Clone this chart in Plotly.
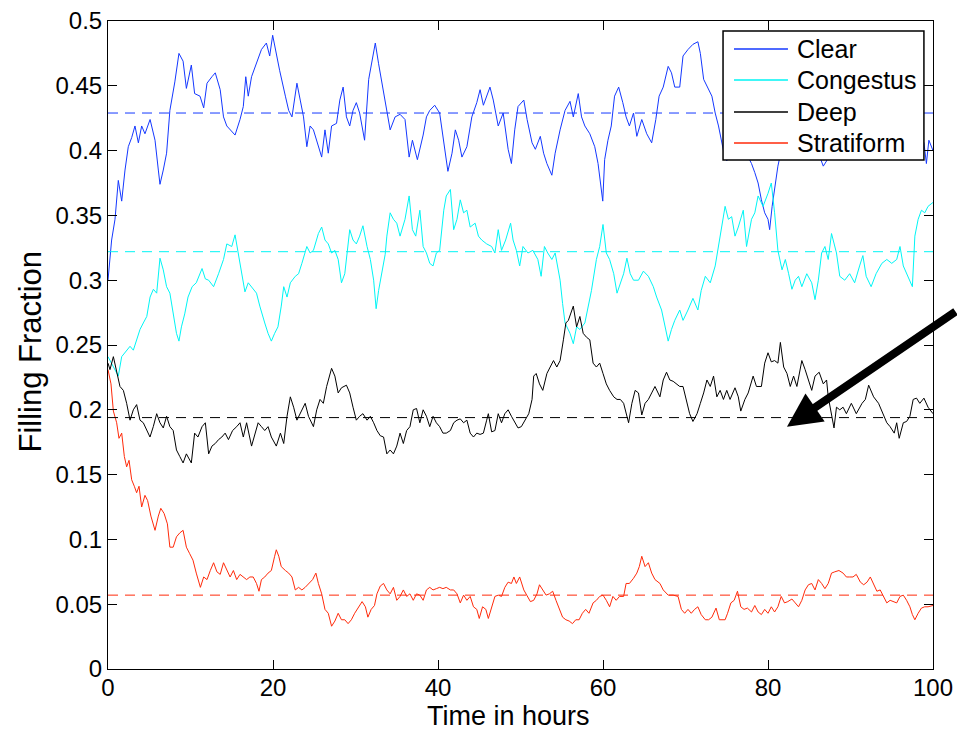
import plotly.graph_objects as go

# ---------------- data ----------------
clear_t = [0.0,0.44,0.85,1.25,1.66,2.06,2.46,2.87,3.27,3.68,4.08,4.48,5.1,5.7,6.1,6.3,6.7,7.1,7.5,8.1,8.6,9.1,9.5,10.1,10.5,11.15,11.6,12.0,12.6,13.0,13.6,14.0,14.4,14.8,15.4,16.0,16.4,16.7,17.0,17.4,18.0,18.6,19.2,19.6,19.96,20.4,20.8,21.5,21.9,22.3,22.9,23.3,23.7,24.1,24.5,24.9,25.5,25.9,26.3,26.7,27.1,27.7,28.1,28.5,28.9,29.3,29.7,30.1,30.5,31.1,31.6,32.0,32.4,32.8,33.2,33.8,34.2,34.8,35.4,36.0,36.5,36.9,37.5,38.2,38.6,39.0,39.6,40.2,40.6,41.0,41.2,41.7,42.1,42.5,42.9,43.5,44.1,44.7,45.1,45.5,45.9,46.3,46.7,47.3,47.9,48.5,48.9,49.3,49.7,50.4,50.8,51.4,51.8,52.4,52.8,53.2,53.8,54.2,54.8,55.4,56.0,56.4,57.0,57.4,57.8,58.4,59.0,59.4,59.97,60.2,60.6,61.0,61.4,61.9,62.4,62.8,63.2,63.7,64.1,64.7,65.3,65.9,66.4,66.8,67.3,67.9,68.3,68.7,69.3,69.7,70.3,70.9,71.5,71.8,72.2,72.8,73.2,73.6,74.0,74.6,75.0,75.4,76.0,76.5,77.0,77.6,78.0,78.4,78.8,79.2,79.6,80.0,80.2,80.5,80.8,81.2,81.6,82.0,82.5,83.0,83.5,84.0,84.5,85.0,85.5,86.0,86.7,87.1,87.5,88.0,88.5,89.0,89.5,90.0,90.5,91.0,91.5,92.0,92.5,93.0,93.5,94.0,94.5,95.0,95.5,96.0,96.5,97.0,97.5,98.0,98.5,98.9,99.2,99.5,100.0]
clear_v = [0.300,0.331,0.347,0.377,0.361,0.385,0.403,0.410,0.419,0.406,0.419,0.413,0.424,0.408,0.385,0.374,0.385,0.398,0.431,0.453,0.475,0.469,0.448,0.466,0.444,0.442,0.433,0.452,0.457,0.460,0.447,0.426,0.419,0.416,0.412,0.424,0.434,0.457,0.442,0.457,0.467,0.478,0.483,0.473,0.489,0.474,0.462,0.442,0.431,0.426,0.452,0.439,0.426,0.403,0.419,0.416,0.403,0.395,0.416,0.398,0.419,0.421,0.439,0.449,0.426,0.419,0.431,0.437,0.429,0.408,0.455,0.470,0.483,0.467,0.452,0.431,0.416,0.426,0.428,0.424,0.395,0.408,0.393,0.412,0.426,0.431,0.435,0.429,0.411,0.390,0.384,0.398,0.416,0.408,0.395,0.403,0.426,0.437,0.447,0.435,0.442,0.449,0.439,0.419,0.429,0.401,0.390,0.416,0.434,0.439,0.424,0.406,0.401,0.411,0.398,0.390,0.381,0.398,0.416,0.431,0.438,0.426,0.444,0.426,0.419,0.413,0.403,0.390,0.361,0.393,0.408,0.419,0.442,0.449,0.437,0.426,0.419,0.429,0.411,0.424,0.413,0.406,0.424,0.442,0.449,0.465,0.460,0.449,0.449,0.473,0.478,0.482,0.484,0.475,0.455,0.447,0.442,0.429,0.419,0.400,0.392,0.400,0.410,0.420,0.402,0.395,0.390,0.383,0.375,0.362,0.352,0.347,0.339,0.357,0.372,0.388,0.400,0.410,0.420,0.415,0.430,0.420,0.410,0.420,0.405,0.400,0.388,0.392,0.405,0.420,0.430,0.440,0.430,0.445,0.440,0.450,0.440,0.430,0.435,0.420,0.430,0.440,0.430,0.425,0.430,0.420,0.410,0.420,0.410,0.415,0.410,0.406,0.390,0.408,0.400]

cong_t = [0.0,0.65,1.25,1.66,2.06,2.67,3.07,3.47,3.88,4.28,4.7,5.1,5.5,5.9,6.3,6.7,7.1,7.5,7.9,8.3,8.6,8.9,9.3,9.7,10.2,10.7,11.4,11.8,12.2,12.8,13.4,14.0,14.4,15.0,15.4,15.8,16.2,16.6,17.0,17.4,18.0,18.4,18.6,19.0,19.4,19.8,20.2,20.6,21.0,21.3,21.7,22.1,22.7,23.1,23.5,24.1,24.5,24.9,25.5,25.9,26.3,26.7,27.1,27.5,27.9,28.3,28.7,29.3,29.7,30.1,30.5,30.9,31.4,31.8,32.2,32.5,32.8,33.2,33.6,33.8,34.2,34.6,35.0,35.4,36.0,36.5,36.9,37.3,37.8,38.2,38.6,39.0,39.4,39.8,40.2,40.7,41.0,41.5,41.9,42.3,42.7,43.1,43.5,43.9,44.5,44.9,45.3,45.9,46.5,46.9,47.3,47.7,48.2,48.8,49.1,49.5,49.9,50.3,50.9,51.5,52.1,52.5,52.9,53.3,53.8,54.2,54.8,55.1,55.4,56.0,56.4,56.8,57.2,57.8,58.2,58.6,59.2,59.6,60.0,60.4,60.8,61.3,61.7,62.1,62.5,62.9,63.3,63.7,64.3,64.9,65.5,66.1,66.5,67.1,67.5,67.9,68.3,68.7,69.3,69.7,70.3,70.9,71.5,71.9,72.4,73.0,73.6,74.2,74.8,75.2,75.6,76.0,76.4,77.0,77.4,78.0,78.4,78.8,79.4,80.0,80.4,80.8,81.2,81.7,82.1,82.5,82.9,83.3,83.7,84.1,84.7,85.3,85.7,86.1,86.5,86.9,87.3,87.7,88.3,88.7,89.3,89.9,90.5,91.1,91.5,91.9,92.5,93.1,93.8,94.4,95.0,95.6,96.0,96.4,96.8,97.2,97.5,97.8,98.2,98.6,99.0,99.4,100.0]
cong_v = [0.241,0.233,0.226,0.241,0.244,0.249,0.246,0.254,0.262,0.267,0.272,0.287,0.293,0.290,0.317,0.308,0.295,0.290,0.275,0.259,0.253,0.264,0.274,0.287,0.295,0.298,0.309,0.301,0.300,0.295,0.305,0.316,0.328,0.326,0.335,0.321,0.308,0.291,0.298,0.295,0.290,0.280,0.275,0.267,0.259,0.253,0.259,0.264,0.280,0.295,0.287,0.298,0.303,0.305,0.313,0.326,0.321,0.323,0.336,0.341,0.331,0.328,0.321,0.323,0.316,0.298,0.305,0.339,0.331,0.328,0.334,0.342,0.326,0.316,0.300,0.278,0.292,0.305,0.320,0.334,0.352,0.347,0.344,0.334,0.347,0.365,0.339,0.334,0.354,0.326,0.321,0.313,0.311,0.321,0.323,0.354,0.365,0.370,0.339,0.347,0.362,0.352,0.354,0.341,0.344,0.334,0.331,0.328,0.326,0.321,0.339,0.323,0.331,0.344,0.331,0.323,0.311,0.326,0.321,0.323,0.316,0.303,0.326,0.321,0.316,0.321,0.300,0.282,0.267,0.259,0.251,0.264,0.262,0.267,0.280,0.292,0.316,0.326,0.343,0.321,0.316,0.305,0.290,0.298,0.305,0.317,0.305,0.300,0.300,0.307,0.303,0.295,0.287,0.277,0.264,0.253,0.262,0.269,0.277,0.269,0.277,0.286,0.277,0.292,0.303,0.298,0.311,0.334,0.357,0.347,0.349,0.334,0.341,0.354,0.326,0.347,0.352,0.365,0.357,0.367,0.375,0.352,0.323,0.308,0.316,0.305,0.293,0.300,0.303,0.295,0.305,0.298,0.285,0.300,0.321,0.326,0.316,0.336,0.321,0.303,0.300,0.305,0.298,0.311,0.319,0.303,0.295,0.305,0.313,0.316,0.313,0.316,0.326,0.311,0.305,0.300,0.295,0.334,0.347,0.354,0.352,0.357,0.360]

deep_t = [0.0,0.24,0.65,1.05,1.45,1.86,2.26,2.67,3.07,3.47,3.88,4.28,4.69,5.09,5.49,5.9,6.3,6.7,7.1,7.5,7.9,8.3,8.7,9.1,9.5,10.1,10.5,10.9,11.4,11.8,12.2,12.6,13.0,13.4,13.8,14.2,14.6,15.1,15.6,16.0,16.4,16.8,17.4,17.8,18.2,18.6,19.0,19.4,19.8,20.4,20.9,21.3,21.7,22.1,22.5,22.9,23.3,23.9,24.3,24.9,25.3,25.7,26.1,26.5,27.1,27.5,27.9,28.3,28.9,29.3,29.7,30.1,30.5,30.9,31.4,31.8,32.2,32.6,33.0,33.4,33.8,34.2,34.6,35.0,35.4,35.8,36.2,36.6,37.0,37.4,37.8,38.2,38.6,39.0,39.4,39.8,40.2,40.6,41.0,41.5,41.9,42.3,42.7,43.1,43.5,43.9,44.3,44.7,45.1,45.5,45.9,46.1,46.5,46.9,47.3,47.7,48.1,48.5,48.9,49.3,49.7,50.1,50.6,51.0,51.4,51.6,51.9,52.3,52.7,53.2,53.6,54.0,54.4,54.8,55.2,55.5,55.8,56.1,56.4,56.8,57.2,57.6,58.0,58.4,58.8,59.2,59.6,60.0,60.4,60.8,61.3,61.7,62.1,62.5,62.9,63.1,63.5,63.9,64.3,64.7,65.1,65.5,65.9,66.3,66.9,67.3,67.7,68.1,68.5,68.9,69.3,69.7,70.1,70.5,70.9,71.4,71.8,72.2,72.6,73.0,73.4,73.8,74.2,74.6,75.0,75.4,76.0,76.4,76.7,77.2,77.6,78.2,78.6,79.2,79.6,80.0,80.4,80.8,81.2,81.5,81.9,82.3,82.7,83.1,83.5,84.1,84.5,84.9,85.3,85.7,86.2,86.7,87.1,87.3,87.7,88.0,88.3,88.7,89.1,89.5,90.1,90.7,91.4,91.8,92.2,92.8,93.4,94.0,94.4,94.8,95.3,95.6,95.9,96.4,96.8,97.2,97.6,98.0,98.4,98.9,99.4,100.0]
deep_v = [0.236,0.231,0.241,0.228,0.218,0.215,0.205,0.192,0.200,0.204,0.192,0.190,0.184,0.179,0.187,0.197,0.190,0.186,0.195,0.187,0.184,0.169,0.164,0.159,0.166,0.159,0.182,0.179,0.187,0.190,0.166,0.172,0.174,0.177,0.179,0.182,0.177,0.184,0.187,0.190,0.179,0.190,0.172,0.182,0.190,0.187,0.184,0.187,0.179,0.172,0.182,0.174,0.195,0.210,0.202,0.192,0.197,0.205,0.195,0.187,0.200,0.208,0.205,0.218,0.232,0.226,0.213,0.217,0.219,0.213,0.202,0.192,0.195,0.197,0.192,0.195,0.190,0.184,0.180,0.179,0.166,0.169,0.166,0.172,0.182,0.174,0.184,0.187,0.200,0.201,0.190,0.200,0.195,0.187,0.195,0.190,0.187,0.182,0.182,0.184,0.190,0.192,0.193,0.190,0.192,0.182,0.179,0.182,0.181,0.182,0.192,0.197,0.183,0.184,0.197,0.190,0.197,0.200,0.195,0.190,0.186,0.187,0.192,0.197,0.208,0.226,0.228,0.220,0.215,0.228,0.233,0.238,0.233,0.238,0.254,0.267,0.269,0.274,0.280,0.264,0.272,0.259,0.256,0.254,0.236,0.233,0.236,0.228,0.220,0.215,0.210,0.208,0.208,0.205,0.195,0.190,0.205,0.215,0.213,0.196,0.205,0.208,0.213,0.218,0.210,0.223,0.229,0.223,0.222,0.220,0.218,0.218,0.208,0.197,0.191,0.197,0.205,0.213,0.223,0.218,0.226,0.210,0.215,0.208,0.215,0.208,0.217,0.210,0.199,0.208,0.213,0.226,0.218,0.218,0.236,0.244,0.237,0.238,0.236,0.252,0.233,0.228,0.218,0.226,0.218,0.238,0.231,0.223,0.215,0.226,0.229,0.220,0.223,0.210,0.195,0.186,0.202,0.200,0.202,0.197,0.205,0.197,0.205,0.208,0.219,0.210,0.205,0.196,0.190,0.187,0.182,0.190,0.178,0.190,0.191,0.195,0.208,0.209,0.205,0.209,0.202,0.197]

strat_t = [0.0,0.36,0.65,1.05,1.33,1.66,1.98,2.26,2.55,2.87,3.19,3.47,3.76,4.08,4.48,4.8,5.2,5.7,6.1,6.4,6.8,7.2,7.5,7.9,8.3,8.7,9.1,9.5,9.9,10.3,10.7,11.2,11.6,12.0,12.4,12.8,13.2,13.6,14.0,14.4,14.8,15.2,15.6,16.0,16.4,16.8,17.2,17.6,18.0,18.3,18.6,19.0,19.4,19.8,20.2,20.4,20.7,21.0,21.5,21.9,22.3,22.7,23.1,23.5,23.9,24.3,24.8,25.2,25.5,25.9,26.3,26.7,27.1,27.5,27.9,28.3,28.7,29.1,29.5,29.9,30.3,30.8,31.2,31.5,31.9,32.3,32.6,33.0,33.4,33.8,34.2,34.6,35.0,35.4,35.8,36.2,36.6,37.0,37.4,37.8,38.2,38.6,39.0,39.4,39.8,40.2,40.6,41.0,41.5,41.9,42.3,42.7,43.1,43.5,43.9,44.3,44.7,45.0,45.4,45.8,46.1,46.5,46.9,47.3,47.7,48.1,48.5,48.9,49.2,49.5,49.9,50.4,50.8,51.2,51.6,52.0,52.3,52.7,53.1,53.5,53.9,54.3,54.7,55.1,55.5,55.9,56.3,56.7,57.1,57.5,57.9,58.3,58.8,59.2,59.6,60.0,60.4,60.8,61.2,61.6,62.0,62.5,62.8,63.2,63.7,64.1,64.4,64.7,65.1,65.5,65.9,66.3,66.9,67.3,67.9,68.5,69.1,69.5,69.9,70.3,70.7,71.1,71.5,71.9,72.4,72.8,73.2,73.7,74.1,74.5,74.8,75.1,75.5,75.9,76.3,76.7,77.1,77.5,78.0,78.4,78.8,79.2,79.6,80.0,80.4,80.8,81.2,81.6,82.0,82.4,82.9,83.3,83.7,84.1,84.5,84.9,85.3,85.7,86.1,86.5,86.9,87.3,87.7,88.1,88.6,89.1,89.5,89.9,90.3,90.7,91.2,91.6,92.0,92.4,92.8,93.2,93.6,94.0,94.4,94.8,95.2,95.6,96.0,96.4,96.8,97.2,97.5,97.8,98.2,98.6,99.0,99.4,100.0]
strat_v = [0.231,0.220,0.199,0.190,0.178,0.182,0.164,0.156,0.161,0.146,0.141,0.136,0.141,0.125,0.134,0.130,0.118,0.107,0.118,0.124,0.120,0.112,0.094,0.094,0.102,0.105,0.107,0.094,0.089,0.084,0.074,0.063,0.071,0.069,0.076,0.082,0.075,0.073,0.082,0.076,0.071,0.076,0.069,0.073,0.071,0.069,0.071,0.071,0.066,0.060,0.069,0.071,0.074,0.076,0.087,0.092,0.087,0.079,0.076,0.074,0.071,0.061,0.063,0.061,0.063,0.066,0.069,0.074,0.066,0.058,0.046,0.043,0.033,0.037,0.043,0.038,0.038,0.035,0.038,0.043,0.047,0.052,0.048,0.040,0.046,0.049,0.058,0.064,0.066,0.061,0.058,0.063,0.053,0.056,0.061,0.056,0.058,0.053,0.058,0.057,0.053,0.061,0.063,0.061,0.062,0.063,0.062,0.063,0.061,0.061,0.058,0.051,0.057,0.053,0.056,0.048,0.046,0.039,0.048,0.046,0.039,0.048,0.056,0.057,0.056,0.063,0.067,0.066,0.071,0.066,0.071,0.061,0.056,0.052,0.053,0.058,0.065,0.061,0.057,0.058,0.060,0.053,0.046,0.040,0.038,0.037,0.035,0.038,0.038,0.043,0.046,0.043,0.051,0.053,0.056,0.057,0.053,0.048,0.056,0.053,0.056,0.056,0.066,0.066,0.070,0.074,0.079,0.087,0.079,0.082,0.074,0.069,0.066,0.061,0.057,0.057,0.056,0.046,0.043,0.046,0.043,0.046,0.048,0.042,0.038,0.038,0.040,0.047,0.038,0.038,0.038,0.043,0.051,0.053,0.060,0.048,0.046,0.047,0.044,0.049,0.044,0.042,0.046,0.043,0.048,0.044,0.048,0.056,0.051,0.052,0.054,0.051,0.048,0.053,0.061,0.065,0.066,0.061,0.069,0.066,0.062,0.066,0.074,0.075,0.076,0.074,0.071,0.071,0.071,0.073,0.067,0.065,0.067,0.071,0.066,0.060,0.061,0.056,0.051,0.053,0.052,0.051,0.056,0.057,0.053,0.048,0.042,0.038,0.043,0.047,0.048,0.048,0.049]

series_names = ["Clear", "Congestus", "Deep", "Stratiform"]
series_colors = ["#1438ff", "#00f5f5", "#000000", "#ff2a0a"]
series_means = [0.429, 0.322, 0.194, 0.057]
x_ticks = [0, 20, 40, 60, 80, 100]
y_ticks = [0, 0.05, 0.1, 0.15, 0.2, 0.25, 0.3, 0.35, 0.4, 0.45, 0.5]
y_tick_text = ["0", "0.05", "0.1", "0.15", "0.2", "0.25", "0.3", "0.35", "0.4", "0.45", "0.5"]
x_range = [0, 100]
y_range = [0, 0.5]
x_title = "Time in hours"
y_title = "Filling Fraction"

times = [clear_t, cong_t, deep_t, strat_t]
values = [clear_v, cong_v, deep_v, strat_v]

FONT = "Liberation Sans, Arial, Helvetica, sans-serif"

fig = go.Figure()
for name, col, t, v in zip(series_names, series_colors, times, values):
    fig.add_trace(go.Scatter(x=t, y=v, mode="lines", name=name, showlegend=False,
                             line=dict(color=col, width=1)))
for name, col, m in zip(series_names, series_colors, series_means):
    fig.add_trace(go.Scatter(x=x_range, y=[m, m], mode="lines", showlegend=False,
                             name=name + " mean", hoverinfo="skip",
                             line=dict(color=col, width=1, dash="10px,7px")))

axis_common = dict(showline=True, linecolor="black", linewidth=1, mirror="ticks",
                   ticks="inside", ticklen=9, tickcolor="black", tickwidth=1,
                   showgrid=False, zeroline=False, automargin=False,
                   tickfont=dict(family=FONT, size=24, color="black"))

# ---- legend box drawn in the MATLAB style (paper coordinates) ----
LEG_X0, LEG_X1, LEG_Y0, LEG_Y1 = 0.7455, 0.989, 0.7855, 0.9846
ROW_Y = [0.9568, 0.9090, 0.8596, 0.8117]
LINE_X0, LINE_X1, TEXT_X = 0.7588, 0.8242, 0.8327

shapes = [dict(type="rect", xref="paper", yref="paper",
               x0=LEG_X0, x1=LEG_X1, y0=LEG_Y0, y1=LEG_Y1,
               fillcolor="white", line=dict(color="black", width=1.5), layer="above")]
annotations = []
for name, col, ry in zip(series_names, series_colors, ROW_Y):
    shapes.append(dict(type="line", xref="paper", yref="paper",
                       x0=LINE_X0, x1=LINE_X1, y0=ry, y1=ry,
                       line=dict(color=col, width=1.5), layer="above"))
    annotations.append(dict(x=TEXT_X, y=ry, xref="paper", yref="paper", text=name,
                            showarrow=False, xanchor="left", yanchor="middle",
                            font=dict(family=FONT, size=25, color="black")))

annotations += [
    dict(x=0.5, y=0, xref="paper", yref="paper", text=x_title, showarrow=False,
         xanchor="center", yanchor="middle", yshift=-46.5, xshift=-12,
         font=dict(family=FONT, size=27, color="black")),
    dict(x=0, y=0.49, xref="paper", yref="paper", text=y_title, showarrow=False,
         xanchor="center", yanchor="middle", xshift=-78, textangle=-90,
         font=dict(family=FONT, size=31, color="black")),
    dict(x=82.3, y=0.187, xref="x", yref="y", text="",
         showarrow=True, ax=178, ay=-116, axref="pixel", ayref="pixel",
         arrowhead=2, arrowsize=0.85, arrowwidth=8,
         arrowcolor="black", standoff=0),
]

fig.update_layout(
    width=957, height=731,
    margin=dict(l=108, r=24, t=21, b=62, autoexpand=False),
    paper_bgcolor="white", plot_bgcolor="white",
    font=dict(family=FONT, size=24, color="black"),
    xaxis=dict(range=x_range, tickvals=x_ticks, ticklabelstandoff=-3, **axis_common),
    yaxis=dict(range=y_range, tickvals=y_ticks, ticktext=y_tick_text, **axis_common),
    showlegend=False,
    shapes=shapes,
    annotations=annotations,
)

fig.write_html("out.html")
